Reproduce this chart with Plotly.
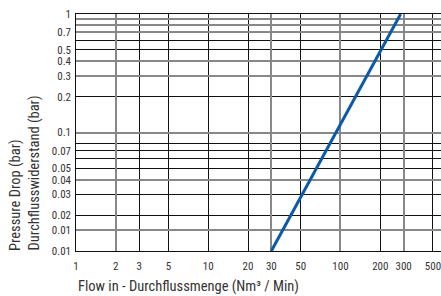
import plotly.graph_objects as go

# ---- data ----
flow = [30, 285]          # Nm3/min
pressure_drop = [0.01, 1]  # bar

x_tick_vals = [1, 2, 3, 5, 10, 20, 30, 50, 100, 200, 300, 500]
x_tick_text = ["1", "2", "3", "5", "10", "20", "30", "50", "100", "200", "300", "500"]
x_grid_dark = [3, 5, 10, 20, 50, 200, 500]
x_grid_gray = [2, 30, 100, 300]

y_tick_vals = [0.01, 0.015, 0.02, 0.03, 0.04, 0.05, 0.07, 0.1, 0.2, 0.3, 0.4, 0.5, 0.7, 1]
y_tick_text = ["0.01", "0.01", "0.02", "0.03", "0.04", "0.05", "0.07", "0.1",
               "0.2", "0.3", "0.4", "0.5", "0.7", "1"]
y_grid_dark = [0.02, 0.03, 0.05, 0.06, 0.07, 0.08, 0.2, 0.5, 0.6, 1]
y_grid_gray = [0.015, 0.04, 0.1, 0.3, 0.4, 0.7, 0.8, 0.9]

FONT = "Liberation Sans Narrow, Arial Narrow, Roboto Condensed, Liberation Sans, sans-serif"
xr = [0, 2.76]
yr = [-2, 0]

fig = go.Figure()
fig.add_trace(go.Scatter(x=flow, y=pressure_drop, mode="lines",
                         line=dict(color="#0b5aa8", width=3),
                         showlegend=False, hoverinfo="skip"))

fig.update_layout(
    width=441, height=296,
    margin=dict(l=76, r=0, t=14, b=45),
    paper_bgcolor="white", plot_bgcolor="white",
    font=dict(family=FONT, size=11, color="#333"),
    xaxis=dict(type="log", range=xr, tickvals=x_grid_dark, showticklabels=False,
               showgrid=True, gridcolor="#111", gridwidth=1, zeroline=False,
               showline=True, linecolor="#111", linewidth=1, mirror=True, ticks=""),
    yaxis=dict(type="log", range=yr, tickvals=y_grid_dark, showticklabels=False,
               showgrid=True, gridcolor="#111", gridwidth=1, zeroline=False,
               showline=True, linecolor="#111", linewidth=1, ticks=""),
    xaxis2=dict(type="log", range=xr, overlaying="x", anchor="y", side="bottom",
                tickvals=x_grid_gray, showticklabels=False, showgrid=True,
                gridcolor="#888", gridwidth=1.6, zeroline=False, showline=False, ticks=""),
    yaxis2=dict(type="log", range=yr, overlaying="y", anchor="x", side="left",
                tickvals=y_grid_gray, showticklabels=False, showgrid=True,
                gridcolor="#888", gridwidth=1.6, zeroline=False, showline=False, ticks=""),
    xaxis3=dict(type="log", range=xr, overlaying="x", anchor="y", side="bottom",
                tickvals=x_tick_vals, ticktext=x_tick_text, showgrid=False,
                zeroline=False, showline=False, ticks="", ticklabelstandoff=7,
                ticklabeloverflow="allow",
                tickfont=dict(family=FONT, size=11, color="#333")),
    yaxis3=dict(type="log", range=yr, overlaying="y", anchor="x", side="left",
                tickvals=y_tick_vals, ticktext=y_tick_text, showgrid=False,
                zeroline=False, showline=False, ticks="", ticklabelstandoff=4,
                ticklabeloverflow="allow",
                tickfont=dict(family=FONT, size=11, color="#333")),
)

# invisible helper traces so overlay axes are drawn
for i in (2, 3):
    fig.add_trace(go.Scatter(x=[], y=[], xaxis=f"x{i}", yaxis=f"y{i}",
                             showlegend=False, hoverinfo="skip"))

fig.add_annotation(text="Flow in - Durchflussmenge (Nm³ / Min)", xref="paper", yref="paper",
                   x=0, y=-0.1477, xanchor="left", yanchor="middle", showarrow=False,
                   font=dict(family=FONT, size=14.5, color="#333"))
fig.add_annotation(text="Pressure Drop (bar)", xref="paper", yref="paper",
                   x=-0.164, y=-0.008, xanchor="center", yanchor="bottom", textangle=-90,
                   showarrow=False, font=dict(family=FONT, size=14.5, color="#333"))
fig.add_annotation(text="Durchflusswiderstand (bar)", xref="paper", yref="paper",
                   x=-0.115, y=-0.008, xanchor="center", yanchor="bottom", textangle=-90,
                   showarrow=False, font=dict(family=FONT, size=14.5, color="#333"))

# keep the data line on top of the grids
fig.data = (fig.data[1], fig.data[2], fig.data[0])
fig.write_html("out.html", config={"displayModeBar": False},
               post_script="document.body.style.margin='0';document.body.style.padding='0';")
